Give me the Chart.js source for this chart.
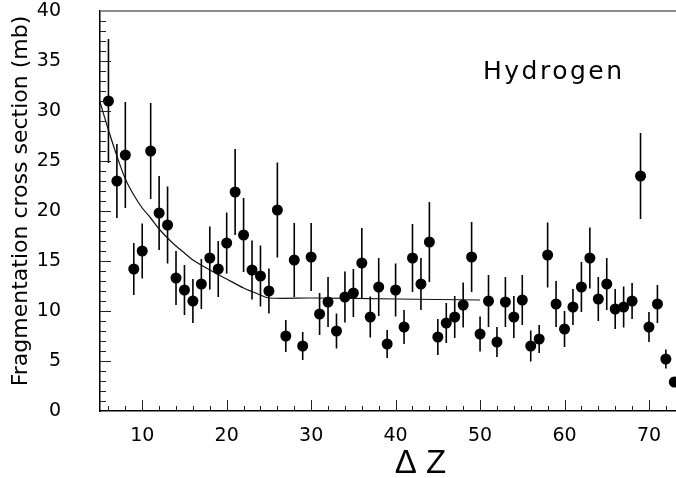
<!DOCTYPE html>
<html>
<head>
<meta charset="utf-8">
<script src="https://cdn.jsdelivr.net/npm/chart.js@4.4.1/dist/chart.umd.min.js"></script>
<style>
  html, body { margin: 0; padding: 0; background: #fff; }
  #wrap { width: 676px; height: 478px; }
</style>
</head>
<body>
<div id="wrap"><canvas id="xsec" width="676" height="478"></canvas></div>
<script>
// measured points (charge change vs cross section, mb)
const dz = [6, 7, 8, 9, 10, 11, 12, 13, 14, 15, 16, 17, 18, 19, 20, 21, 22, 23, 24, 25,
            26, 27, 28, 29, 30, 31, 32, 33, 34, 35, 36, 37, 38, 39, 40, 41, 42, 43, 44, 45,
            46, 47, 48, 49, 50, 51, 52, 53, 54, 55, 56, 57, 58, 59, 60, 61, 62, 63, 64, 65,
            66, 67, 68, 69, 70, 71, 72, 73];
const sigma = [31.0, 23.0, 25.6, 14.2, 16.0, 26.0, 19.8, 18.6, 13.3, 12.1, 11.0, 12.7, 15.3, 14.2, 16.8, 21.9, 17.6, 14.1, 13.5, 12.0,
               20.1, 7.5, 15.1, 6.5, 15.4, 9.7, 10.9, 8.0, 11.4, 11.8, 14.8, 9.4, 12.4, 6.7, 12.1, 8.4, 15.3, 12.7, 16.9, 7.4,
               8.8, 9.4, 10.6, 15.4, 7.7, 11.0, 6.9, 10.9, 9.4, 11.1, 6.5, 7.2, 15.6, 10.7, 8.2, 10.4, 12.4, 15.3, 11.2, 12.7,
               10.2, 10.4, 11.0, 23.5, 8.4, 10.7, 5.2, 2.9];
const sigmaErr = [6.2, 3.7, 5.3, 2.6, 2.75, 4.8, 3.7, 3.85, 2.7, 2.5, 2.2, 2.5, 3.15, 2.8, 3.05, 4.3, 3.7, 2.95, 3.05, 2.25,
                  4.75, 1.6, 3.7, 1.4, 3.4, 2.1, 2.5, 1.75, 2.55, 2.4, 3.5, 2.05, 2.9, 1.4, 2.65, 1.7, 3.4, 2.6, 4.0, 1.8,
                  2.0, 2.1, 2.25, 3.5, 1.75, 2.6, 1.5, 2.5, 2.1, 2.5, 1.55, 1.4, 3.25, 2.3, 1.8, 1.8, 2.5, 3.05, 2.2, 2.6,
                  2.0, 2.05, 1.8, 4.3, 1.5, 1.9, 0.95, 0.5];

// fit curve
const fitDz    = [5, 6, 7, 8, 9, 10, 11, 12, 13, 14, 15, 16, 18, 20, 22, 24, 25, 30, 40, 50];
const fitSigma = [30.9, 28.1, 25.5, 23.2, 21.6, 20.3, 19.3, 18.2, 17.3, 16.5, 15.8, 15.1, 14.1, 13.2, 12.3, 11.6, 11.3, 11.3, 11.2, 11.1];

const xTicks = [10, 20, 30, 40, 50, 60, 70];
const yTicks = [0, 5, 10, 15, 20, 25, 30, 35, 40];

Chart.defaults.font.family = 'DejaVu Sans';
Chart.defaults.color = '#000';

const rootStyle = {
    id: 'rootStyle',
    beforeDatasetsDraw(chart) {
        const ctx = chart.ctx;
        const ca = chart.chartArea;
        const xs = chart.scales.x, ys = chart.scales.y;
        ctx.save();
        ctx.beginPath();
        ctx.rect(ca.left, ca.top, ca.right - ca.left, ca.bottom - ca.top);
        ctx.clip();
        ctx.strokeStyle = '#000';
        ctx.lineWidth = 1.6;
        dz.forEach((x, i) => {
            const px = xs.getPixelForValue(x);
            ctx.beginPath();
            ctx.moveTo(px, ys.getPixelForValue(sigma[i] - sigmaErr[i]));
            ctx.lineTo(px, ys.getPixelForValue(sigma[i] + sigmaErr[i]));
            ctx.stroke();
        });
        ctx.restore();
    },
    afterDraw(chart) {
        const ctx = chart.ctx;
        const ca = chart.chartArea;
        const xs = chart.scales.x, ys = chart.scales.y;
        ctx.save();

        // top frame line
        ctx.strokeStyle = '#666';
        ctx.lineWidth = 1.5;
        ctx.beginPath();
        ctx.moveTo(ca.left, ca.top);
        ctx.lineTo(ca.right, ca.top);
        ctx.stroke();

        // tick marks pointing inside
        ctx.strokeStyle = '#222';
        ctx.lineWidth = 1;
        ctx.beginPath();
        for (let v = 6; v <= 72; v += 2) {
            const px = Math.round(xs.getPixelForValue(v)) + 0.5;
            const len = v % 10 === 0 ? 11 : 5;
            ctx.moveTo(px, ca.bottom);
            ctx.lineTo(px, ca.bottom - len);
        }
        for (let v = 1; v < 40; v++) {
            const py = Math.round(ys.getPixelForValue(v)) + 0.5;
            const len = v % 5 === 0 ? 11 : 6;
            ctx.moveTo(ca.left, py);
            ctx.lineTo(ca.left + len, py);
        }
        ctx.stroke();

        // texts
        ctx.fillStyle = '#000';
        ctx.save();
        ctx.translate(21.5, 201);
        ctx.rotate(-Math.PI / 2);
        ctx.font = '22px "DejaVu Sans"';
        ctx.textAlign = 'center';
        ctx.textBaseline = 'middle';
        ctx.fillText('Fragmentation cross section (mb)', 0, 0);
        ctx.restore();

        ctx.font = '33px "Liberation Sans"';
        ctx.textAlign = 'center';
        ctx.textBaseline = 'alphabetic';
        ctx.fillText('\u0394 Z', 420.5, 473);

        ctx.font = '25px "DejaVu Sans"';
        ctx.textAlign = 'left';
        ctx.letterSpacing = '2.5px';
        ctx.fillText('Hydrogen', 483, 79);
        ctx.restore();
    }
};

new Chart(document.getElementById('xsec'), {
    type: 'scatter',
    data: {
        datasets: [{
            label: 'data',
            data: dz.map((x, i) => ({ x: x, y: sigma[i] })),
            pointRadius: 5.5,
            pointHoverRadius: 5.5,
            pointBackgroundColor: '#000',
            pointBorderColor: '#000',
            pointBorderWidth: 0,
            order: 0
        }, {
            label: 'fit',
            data: fitDz.map((x, i) => ({ x: x, y: fitSigma[i] })),
            showLine: true,
            pointRadius: 0,
            borderColor: '#111',
            borderWidth: 1.2,
            tension: 0.3,
            order: 1
        }]
    },
    options: {
        responsive: false,
        animation: false,
        layout: { autoPadding: false, padding: { top: 11, left: 0, right: 0, bottom: 0 } },
        plugins: {
            legend: { display: false },
            tooltip: { enabled: false }
        },
        scales: {
            x: {
                type: 'linear',
                min: 5,
                max: 73.2,
                grid: { display: false },
                border: { display: true, color: '#000', width: 1.5 },
                afterBuildTicks: function (scale) {
                    scale.ticks = xTicks.map(v => ({ value: v }));
                },
                afterFit: function (scale) {
                    scale.height = 67;
                    scale.paddingLeft = 0;
                    scale.paddingRight = 0;
                },
                ticks: {
                    padding: 6,
                    maxRotation: 0,
                    font: { size: 19, lineHeight: 1.2 },
                    color: '#000'
                }
            },
            y: {
                min: 0,
                max: 40,
                grid: { display: false },
                border: { display: true, color: '#000', width: 1.5 },
                afterBuildTicks: function (scale) {
                    scale.ticks = yTicks.map(v => ({ value: v }));
                },
                afterFit: function (scale) {
                    scale.width = 100;
                    scale.paddingTop = 0;
                    scale.paddingBottom = 0;
                },
                ticks: {
                    padding: 31,
                    font: { size: 19, lineHeight: 1.0 },
                    color: '#000'
                }
            }
        }
    },
    plugins: [rootStyle]
});
</script>
</body>
</html>
